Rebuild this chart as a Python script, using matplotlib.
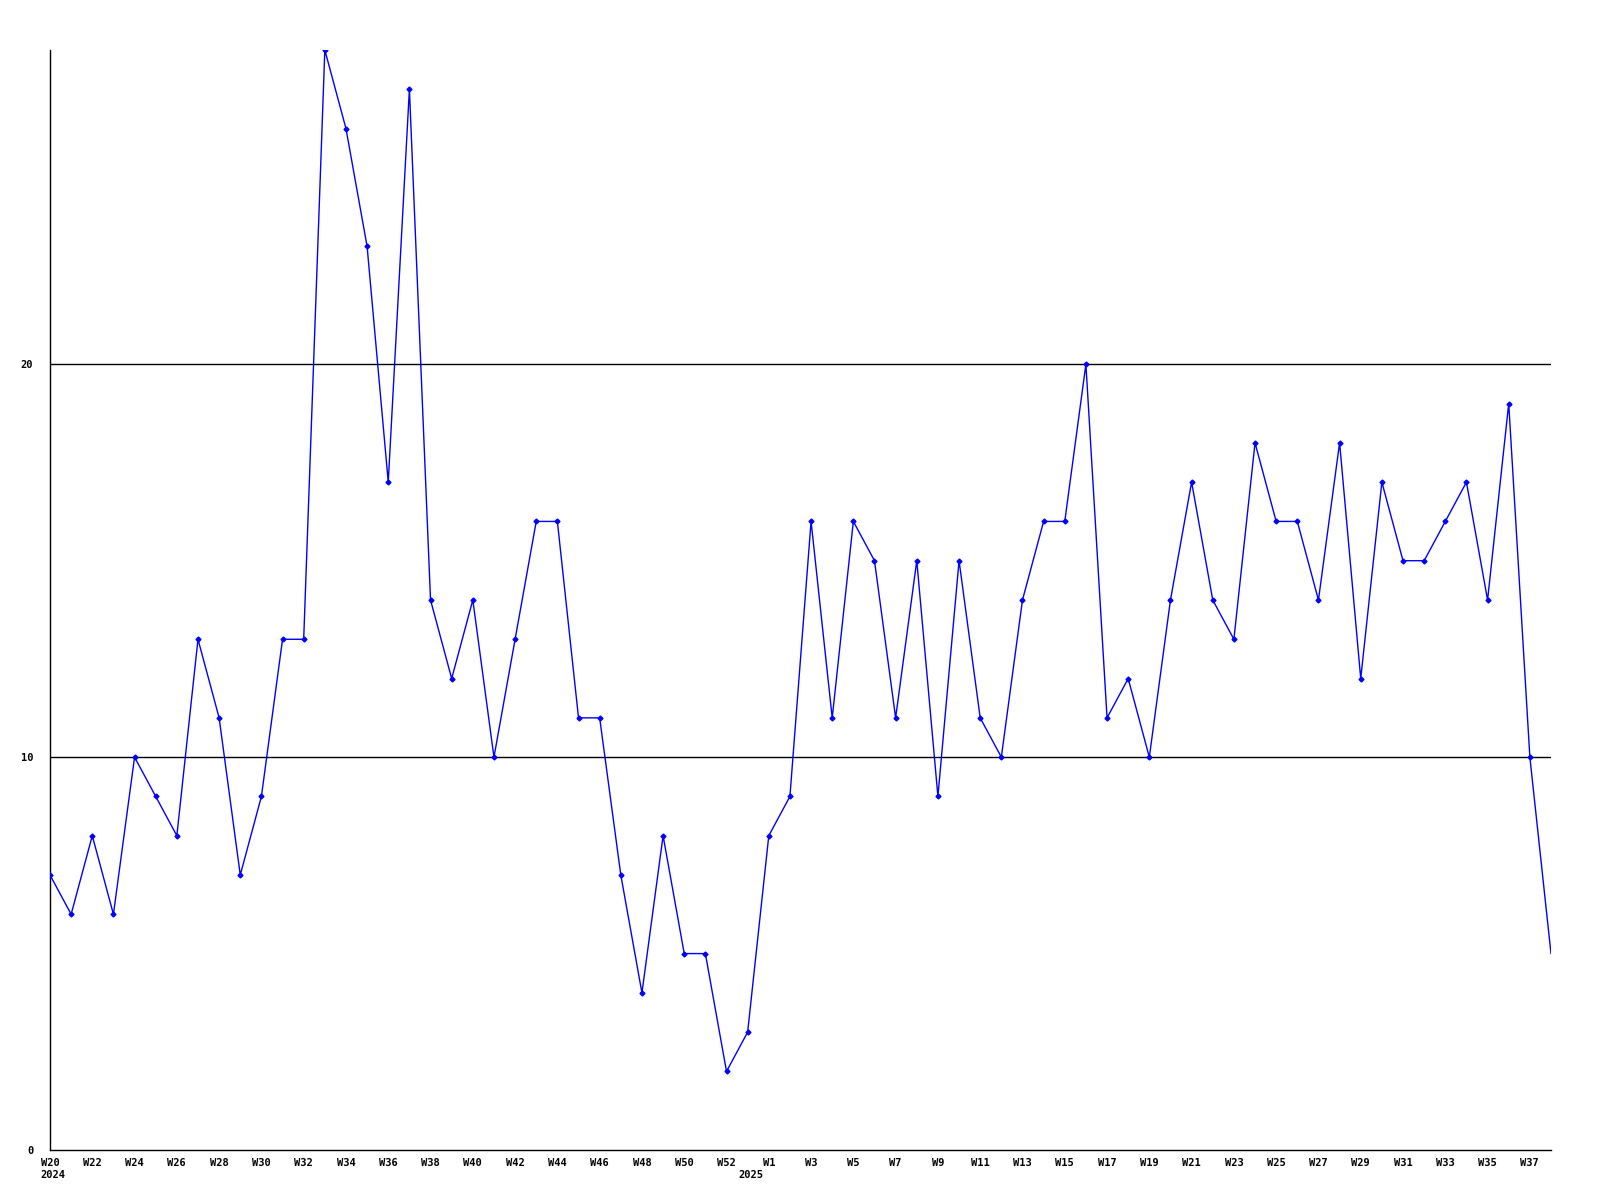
import matplotlib
matplotlib.use("Agg")
import matplotlib.pyplot as plt
import matplotlib.transforms as mtransforms

weeks_2024 = [f"W{i}" for i in range(20, 54)]
weeks_2025 = [f"W{i}" for i in range(1, 39)]
weeks = weeks_2024 + weeks_2025

values = [7, 6, 8, 6, 10, 9, 8, 13, 11, 7, 9, 13, 13, 28, 26, 23, 17, 27, 14, 12,
          14, 10, 13, 16, 16, 11, 11, 7, 4, 8, 5, 5, 2, 3,
          8, 9, 16, 11, 16, 15, 11, 15, 9, 15, 11, 10, 14, 16, 16, 20, 11, 12, 10, 14,
          17, 14, 13, 18, 16, 16, 14, 18, 12, 17, 15, 15, 16, 17, 14, 19, 10, 5]

years = ["2024", "2025"]
y_ticks = [0, 10, 20]

fig = plt.figure(figsize=(16, 12), dpi=100)
ax = fig.add_axes([50/1600, 1 - 1150/1200, (1551 - 50)/1600, 1100/1200])

x = list(range(len(values)))
ax.plot(x, values, color="#0000ff", linewidth=1.0, marker="D", markersize=2.5,
        markevery=list(range(len(values) - 1)), zorder=3)

ax.set_xlim(0, len(values) - 1)
ax.set_ylim(0, 28)

for yv in y_ticks[1:]:
    ax.axhline(yv, color="black", linewidth=1.0, zorder=1)

for s in ["top", "right"]:
    ax.spines[s].set_visible(False)
ax.spines["left"].set_linewidth(1.0)
ax.spines["bottom"].set_linewidth(1.0)

font = dict(family="DejaVu Sans Mono", weight="bold", size=7.5)

ax.set_yticks(y_ticks)
ax.set_yticklabels([str(v) for v in y_ticks], **font)
ax.tick_params(axis="y", length=0, pad=12)

tick_pos = list(range(0, len(values), 2))
ax.set_xticks(tick_pos)
ax.set_xticklabels([weeks[i] for i in tick_pos], **font)
ax.tick_params(axis="x", length=0, pad=6)

trans = mtransforms.blended_transform_factory(ax.transData, ax.transAxes)
ax.text(-0.45, -0.018, years[0], transform=trans, ha="left", va="top", **font)
ax.text(len(weeks_2024) - 0.85, -0.018, years[1], transform=trans, ha="center", va="top", **font)

fig.savefig("out.png", dpi=100)
